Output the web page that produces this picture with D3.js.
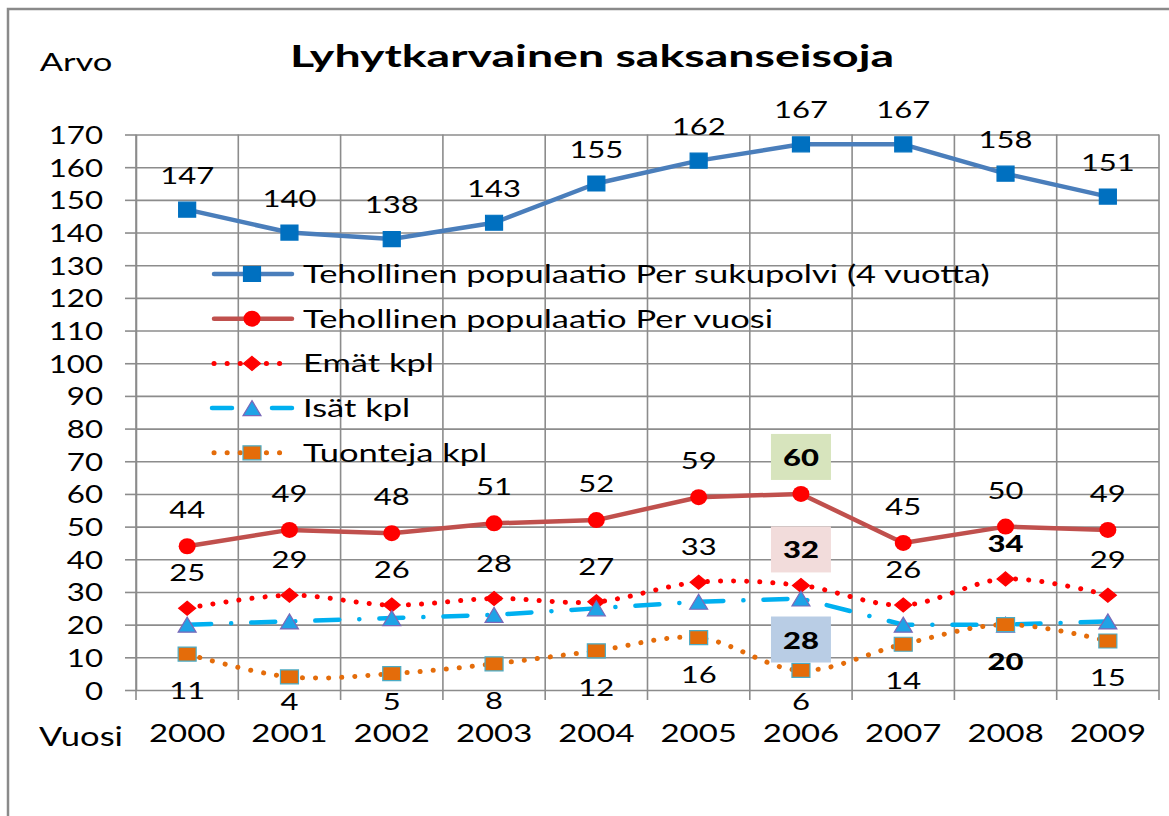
<!DOCTYPE html>
<html><head><meta charset="utf-8">
<script src="https://cdn.jsdelivr.net/npm/d3@7"></script>
<style>
body{margin:0;background:#fff}
svg{display:block}
text{font-family:Lato,"DejaVu Sans",sans-serif;fill:#000}
</style></head>
<body><svg id="c" width="1169" height="816"></svg>
<script>
// ---------- data ----------
const years = ["2000","2001","2002","2003","2004","2005","2006","2007","2008","2009"];
const perSukupolvi = [147,140,138,143,155,162,167,167,158,151];
const perVuosi     = [44,49,48,51,52,59,60,45,50,49];
const emat         = [25,29,26,28,27,33,32,26,34,29];
const isat         = [20,21,22,23,25,27,28,20,20,21];
const tuonteja     = [11,4,5,8,12,16,6,14,20,15];
const yTicks = [0,10,20,30,40,50,60,70,80,90,100,110,120,130,140,150,160,170];
const seriesNames = [
  "Tehollinen populaatio Per sukupolvi (4 vuotta)",
  "Tehollinen populaatio Per vuosi",
  "Emät kpl",
  "Isät kpl",
  "Tuonteja kpl"
];
const titleText = "Lyhytkarvainen saksanseisoja";
const yTitle = "Arvo";
const xTitle = "Vuosi";
const isatLabelledYears = ["2006"];
// emphasised labels
const emphasis = [
  {s:1, year:"2006", box:"#d7e4bd"},
  {s:2, year:"2006", box:"#f2dcdb"},
  {s:2, year:"2008", box:null},
  {s:3, year:"2006", box:"#b9cde5"},
  {s:4, year:"2008", box:null}
];

// ---------- layout ----------
const SX = 1.25;
const svg = d3.select("#c");
const L = 136, R = 1159, T = 134.5, B = 690;
const x = d3.scaleBand().domain(years).range([L, R]).padding(0);
const cx = d => x(d) + x.bandwidth()/2;
const y = d3.scaleLinear().domain([0,170]).range([B, T]);

function stext(g, px, py, s, size, anchor, weight, sx){
  return g.append("text")
    .attr("transform", `translate(${px},${py}) scale(${sx||SX},1)`)
    .attr("font-size", size)
    .attr("text-anchor", anchor || "middle")
    .attr("font-weight", weight || "normal")
    .text(s);
}

// border
svg.append("rect").attr("x",8).attr("y",9).attr("width",1300).attr("height",1000)
  .attr("fill","#fff").attr("stroke","#8a8a8a").attr("stroke-width",2.5);

// title
stext(svg, 592, 67, titleText, 31, "middle", "bold", 1.5);
stext(svg, 76, 71, yTitle, 25, "middle", "normal", 1.38);

const gridCol = "#8c8c8c";
// horizontal gridlines
svg.append("g").attr("transform",`translate(${L},0)`)
  .call(d3.axisLeft(y).tickValues(yTicks).tickSize(-(R-L)).tickFormat(""))
  .call(g=>g.select(".domain").remove())
  .call(g=>g.selectAll("line").attr("stroke",gridCol).attr("stroke-width",1.6));
// y axis with ticks + labels
const ya = svg.append("g").attr("transform",`translate(${L},0)`)
  .call(d3.axisLeft(y).tickValues(yTicks).tickSize(11).tickPadding(0).tickSizeOuter(0));
ya.select(".domain").attr("stroke",gridCol).attr("stroke-width",1.6);
ya.selectAll("line").attr("stroke",gridCol).attr("stroke-width",1.6);
ya.selectAll("text").attr("font-size",25).attr("font-family","Lato")
  .attr("x",-33/SX).attr("dy","0.36em").attr("transform",`scale(${SX},1)`).attr("fill","#000");

// vertical gridlines at band boundaries (extend below axis as ticks)
const bounds = years.map(d=>x(d)).concat([R]);
svg.append("g").selectAll("line").data(bounds).join("line")
  .attr("x1",d=>d).attr("x2",d=>d).attr("y1",T).attr("y2",B+10)
  .attr("stroke",gridCol).attr("stroke-width",1.6);

// x labels
const xl = svg.append("g");
years.forEach(d=>stext(xl, cx(d), 742, d, 25.5, "middle", "normal", 1.29));
stext(svg, 81, 746, xTitle, 26, "middle", "normal", 1.33);

// ---------- series ----------
const seriesData = [perSukupolvi, perVuosi, emat, isat, tuonteja];
const styles = [
  {line:"#4a7ebb", w:4.5, dash:null, curve:d3.curveLinear, marker:"square", mw:17, mh:15, fill:"#0070c0", stroke:"#0070c0"},
  {line:"#c0504d", w:4.5, dash:null, curve:d3.curveLinear, marker:"circle", mw:17, mh:16, fill:"#ff0000", stroke:"#ff0000"},
  {line:"#ff0000", w:5, dash:"0.1,13", curve:d3.curveCardinal.tension(0), marker:"diamond", mw:17, mh:14, fill:"#ff0000", stroke:"#ff0000"},
  {line:"#00b0f0", w:4.5, dash:"24,20,0.1,20", curve:d3.curveLinear, marker:"triangle", mw:18, mh:15, fill:"#1fa3e6", stroke:"#7b68b8"},
  {line:"#e46c0a", w:5, dash:"0.1,13", curve:d3.curveCardinal.tension(0), marker:"square", mw:18, mh:14, fill:"#e46c0a", stroke:"#4bacc6"}
];

function markerPath(type, w, h){
  const a=w/2, b=h/2;
  if(type==="square") return `M${-a},${-b}H${a}V${b}H${-a}Z`;
  if(type==="diamond") return `M0,${-b}L${a},0L0,${b}L${-a},0Z`;
  if(type==="triangle") return `M0,${-b}L${a},${b}L${-a},${b}Z`;
  return null;
}
function drawMarker(g, type, st, px, py){
  if(type==="circle"){
    g.append("ellipse").attr("cx",px).attr("cy",py).attr("rx",st.mw/2).attr("ry",st.mh/2)
      .attr("fill",st.fill);
  } else {
    g.append("path").attr("transform",`translate(${px},${py})`)
      .attr("d",markerPath(type,st.mw,st.mh)).attr("fill",st.fill)
      .attr("stroke",st.stroke).attr("stroke-width",1.2);
  }
}

const plotG = svg.append("g");
seriesData.forEach((vals,i)=>{
  const st = styles[i];
  const line = d3.line().x((v,j)=>cx(years[j])).y(v=>y(v)).curve(st.curve);
  plotG.append("path").attr("d",line(vals)).attr("fill","none")
    .attr("stroke",st.line).attr("stroke-width",st.w)
    .attr("stroke-linecap","round").attr("stroke-linejoin","round")
    .attr("stroke-dasharray",st.dash);
  const mg = plotG.append("g");
  vals.forEach((v,j)=>drawMarker(mg, st.marker, st, cx(years[j]), y(v)));
});

// ---------- legend ----------
const lg = svg.append("g");
seriesNames.forEach((name,i)=>{
  const st = styles[i];
  const ly = 274 + i*44.7;
  let dash = st.dash;
  if(i===3) dash = "20,40,20";
  lg.append("line").attr("x1",i===3?212:214).attr("x2",292).attr("y1",ly).attr("y2",ly)
    .attr("stroke",st.line).attr("stroke-width",st.w).attr("stroke-linecap","round")
    .attr("stroke-dasharray",dash);
  drawMarker(lg, st.marker, st, 252, ly);
  stext(lg, 303, ly+9, name, 25, "start", "normal", 1.38);
});

// ---------- data labels ----------
const labG = svg.append("g");
const LSX = 1.32;
function isEmph(s, year){ return emphasis.find(e=>e.s===s && e.year===year); }
function labelY(s, v){
  if(s===0) return y(v) - 26;
  if(s===1) return y(v) - 28;
  if(s===2) return y(v) - 27;
  if(s===3) return y(v) + 50;
  return Math.min(y(v) + 45, 710);
}
seriesData.forEach((vals,s)=>{
  vals.forEach((v,j)=>{
    const yr = years[j];
    if(s===3 && !isatLabelledYears.includes(yr)) return;
    const e = isEmph(s, yr);
    const px = cx(yr), py = labelY(s, v);
    const t = stext(labG, px, py, String(v), 23.5, "middle", e ? "900" : "normal", LSX);
    if(e && e.box){
      const bb = t.node().getBBox();
      const bw = bb.width*LSX + 24, bh = 46;
      labG.insert("rect", function(){ return t.node(); })
        .attr("x", px - bw/2).attr("y", py - 8 - bh/2 - 1)
        .attr("width", bw).attr("height", bh).attr("fill", e.box);
    }
  });
});
</script></body></html>
